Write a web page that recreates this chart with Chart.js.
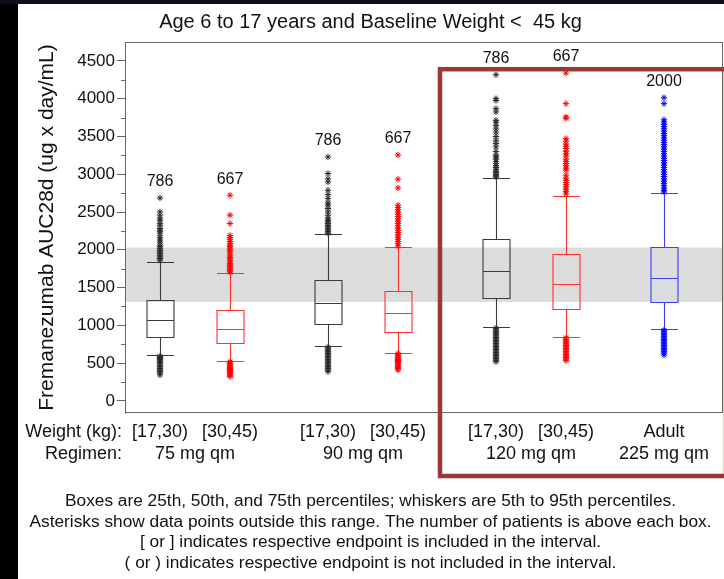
<!DOCTYPE html>
<html>
<head>
<meta charset="utf-8">
<script src="https://cdn.jsdelivr.net/npm/chart.js@4/dist/chart.umd.min.js"></script>
<style>
  html, body { margin: 0; padding: 0; background: #fff; width: 724px; height: 579px; overflow: hidden; }
  #edgeL { position: absolute; left: 0; top: 0; width: 18px; height: 579px; background: #000; }
  #edgeT { position: absolute; left: 0; top: 0; width: 724px; height: 4px; background: #0b111c; }
  #wrap { position: absolute; left: 0; top: 0; width: 724px; height: 579px; }
</style>
</head>
<body>
<div id="edgeL"></div>
<div id="edgeT"></div>
<div id="wrap"><canvas id="c"></canvas></div>
<script>
// ---- data ----------------------------------------------------------
const weightLabels = ['[17,30)', '[30,45)', '[17,30)', '[30,45)', '[17,30)', '[30,45)', 'Adult'];
const regimenLabels = ['75 mg qm', '90 mg qm', '120 mg qm', '225 mg qm'];
const regimenGroups = [[0, 1], [2, 3], [4, 5], [6]];
const positions = [1, 2, 3.4, 4.4, 5.8, 6.8, 8.2];
const patients = [786, 667, 786, 667, 786, 667, 2000];

const p5  = [604, 529, 723, 639, 974, 850, 951];
const q1  = [846, 767, 1018, 908, 1357, 1212, 1308];
const med = [1066, 956, 1295, 1159, 1718, 1542, 1630];
const q3  = [1331, 1207, 1595, 1454, 2137, 1942, 2031];
const p95 = [1841, 1696, 2203, 2031, 2947, 2718, 2749];

const upperOutliers = [
  [2687, 2502, 2458, 2420, 2392, 2350, 2326, 2282, 2250, 2238, 2194, 2160, 2128, 2100, 2062, 2040, 2018, 1995, 1973, 1950, 1929, 1905, 1885, 1865],
  [2722, 2458, 2348, 2190, 2163, 2140, 2110, 2085, 2060, 2040, 2010, 1990, 1960, 1930, 1900, 1880, 1850, 1820, 1800, 1780, 1760, 1740, 1720, 1705],
  [3229, 3009, 2940, 2898, 2788, 2730, 2678, 2620, 2590, 2546, 2500, 2458, 2420, 2392, 2370, 2348, 2325, 2304, 2280, 2260, 2238, 2220],
  [3255, 2934, 2819, 2590, 2560, 2530, 2500, 2470, 2440, 2410, 2380, 2350, 2320, 2290, 2260, 2230, 2200, 2170, 2140, 2110, 2080, 2050],
  [4317, 4000, 3978, 3868, 3824, 3713, 3690, 3647, 3600, 3559, 3500, 3449, 3405, 3361, 3300, 3250, 3229, 3200, 3170, 3140, 3110, 3090, 3060, 3040, 3020, 3000, 2980, 2965],
  [4339, 3934, 3757, 3740, 3471, 3440, 3400, 3370, 3340, 3300, 3270, 3240, 3200, 3170, 3140, 3110, 3080, 3053, 2987, 2950, 2920, 2890, 2860, 2830, 2800, 2770, 2740],
  [4013, 3934, 3720, 3690, 3660, 3630, 3600, 3570, 3540, 3510, 3480, 3450, 3420, 3390, 3360, 3330, 3300, 3270, 3240, 3210, 3180, 3150, 3120, 3090, 3060, 3030, 3000, 2970, 2940, 2910, 2880, 2850, 2820, 2790, 2765]
];
const lowerOutliers = [
  [590, 575, 560, 545, 530, 510, 490, 470, 450, 430, 410, 390, 370, 344],
  [515, 500, 490, 475, 460, 445, 430, 415, 400, 385, 370, 355, 340, 322],
  [710, 690, 670, 650, 630, 610, 590, 570, 550, 530, 510, 490, 470, 450, 430, 410, 388],
  [625, 610, 595, 580, 565, 550, 535, 520, 505, 490, 475, 460, 445, 430, 410],
  [960, 940, 920, 900, 880, 860, 840, 820, 800, 780, 760, 740, 720, 700, 680, 660, 640, 620, 600, 580, 560, 540, 520],
  [835, 815, 795, 775, 755, 735, 715, 695, 675, 655, 635, 615, 595, 575, 555, 533],
  [935, 915, 895, 875, 855, 835, 815, 795, 775, 755, 735, 715, 695, 675, 655, 635, 608]
];

// target exposure range shown as the shaded band
const targetBand = [1310, 2030];

const yTicks = [0, 500, 1000, 1500, 2000, 2500, 3000, 3500, 4000, 4500];
const yMinorTicks = [250, 750, 1250, 1750, 2250, 2750, 3250, 3750, 4250];

const footnotes = [
  'Boxes are 25th, 50th, and 75th percentiles; whiskers are 5th to 95th percentiles.',
  'Asterisks show data points outside this range. The number of patients is above each box.',
  '[ or ] indicates respective endpoint is included in the interval.',
  '( or ) indicates respective endpoint is not included in the interval.'
];

// ---- styling -------------------------------------------------------
const FONT = "'Liberation Sans', Arial, Helvetica, sans-serif";
const lineColors = ['#3a3a3a', '#ff3030', '#3a3a3a', '#ff3030', '#3a3a3a', '#ff3030', '#3c3cff'];
const markColors = ['#2a2a2a', '#ff0000', '#2a2a2a', '#ff0000', '#2a2a2a', '#ff0000', '#0000ff'];
const BOX_W = 27;
const HILITE_FROM = 5.0;      // x value where the 120 mg / adult panel starts
const HILITE_TOP = 4390;      // y value of the panel's upper edge

const datasets = positions.map((p, i) => ({
  label: weightLabels[i],
  data: upperOutliers[i].concat(lowerOutliers[i]).map(v => ({ x: p, y: v })),
  pointStyle: 'star',
  pointRadius: 3.2,
  pointBorderWidth: 1,
  borderColor: markColors[i],
  backgroundColor: markColors[i],
  showLine: false
}));

const boxPlot = {
  id: 'boxPlot',
  beforeDatasetsDraw(chart) {
    const { ctx, chartArea: a, scales: { x, y } } = chart;
    ctx.save();
    const top = y.getPixelForValue(targetBand[1]);
    const bot = y.getPixelForValue(targetBand[0]);
    ctx.fillStyle = '#dcdcdc';
    ctx.fillRect(a.left, top, a.right - a.left, bot - top);

    positions.forEach((p, i) => {
      const cx = Math.round(x.getPixelForValue(p)) + 0.5;
      const hw = BOX_W / 2;
      const py = v => Math.round(y.getPixelForValue(v)) + 0.5;
      ctx.strokeStyle = lineColors[i];
      ctx.lineWidth = 1.1;
      ctx.beginPath();
      ctx.rect(cx - hw, py(q3[i]), 2 * hw, py(q1[i]) - py(q3[i]));
      ctx.moveTo(cx - hw, py(med[i])); ctx.lineTo(cx + hw, py(med[i]));
      ctx.moveTo(cx, py(q3[i])); ctx.lineTo(cx, py(p95[i]));
      ctx.moveTo(cx, py(q1[i])); ctx.lineTo(cx, py(p5[i]));
      ctx.moveTo(cx - hw, py(p95[i])); ctx.lineTo(cx + hw, py(p95[i]));
      ctx.moveTo(cx - hw, py(p5[i])); ctx.lineTo(cx + hw, py(p5[i]));
      ctx.stroke();
    });
    ctx.restore();
  },
  afterDatasetsDraw(chart) {
    const { ctx, chartArea: a, scales: { x, y } } = chart;
    ctx.save();
    // plot frame
    ctx.strokeStyle = '#666';
    ctx.lineWidth = 1;
    ctx.strokeRect(a.left + 0.5, a.top + 0.5, a.right - a.left - 1, a.bottom - a.top - 1);

    // minor ticks on the value axis
    ctx.beginPath();
    yMinorTicks.forEach(v => {
      const py = Math.round(y.getPixelForValue(v)) + 0.5;
      ctx.moveTo(a.left - 4, py); ctx.lineTo(a.left, py);
    });
    ctx.stroke();

    // patient counts above each box
    ctx.fillStyle = '#111';
    ctx.font = '16px ' + FONT;
    ctx.textAlign = 'center';
    ctx.textBaseline = 'middle';
    positions.forEach((p, i) => {
      const topVal = Math.max(...upperOutliers[i]);
      ctx.fillText(String(patients[i]), x.getPixelForValue(p), y.getPixelForValue(topVal) - 16);
    });

    // category rows below the axis
    ctx.font = '18px ' + FONT;
    const row1 = a.bottom + 19, row2 = a.bottom + 41;
    ctx.textAlign = 'right';
    ctx.fillText('Weight (kg):', a.left - 3, row1);
    ctx.fillText('Regimen:', a.left - 3, row2);
    ctx.textAlign = 'center';
    positions.forEach((p, i) => ctx.fillText(weightLabels[i], x.getPixelForValue(p), row1));
    regimenGroups.forEach((g, k) => {
      const mid = g.reduce((s, j) => s + positions[j], 0) / g.length;
      ctx.fillText(regimenLabels[k], x.getPixelForValue(mid), row2);
    });
    ctx.restore();
  },
  afterDraw(chart) {
    const { ctx, chartArea: a, scales: { x, y } } = chart;
    ctx.save();
    ctx.strokeStyle = '#9a3737';
    ctx.lineWidth = 4.5;
    const l = x.getPixelForValue(HILITE_FROM);
    const t = y.getPixelForValue(HILITE_TOP);
    ctx.strokeRect(l, t, a.right + 3 - l, a.bottom + 63 - t);
    ctx.restore();
  }
};

new Chart(document.getElementById('c'), {
  type: 'scatter',
  data: { datasets },
  plugins: [boxPlot],
  options: {
    responsive: true,
    maintainAspectRatio: false,
    animation: false,
    events: [],
    layout: { autoPadding: false, padding: { left: 18, right: 1, top: 4, bottom: 0 } },
    plugins: {
      legend: { display: false },
      tooltip: { enabled: false },
      title: {
        display: true,
        text: 'Age 6 to 17 years and Baseline Weight <  45 kg',
        color: '#111',
        font: { family: FONT, size: 20, weight: 'normal', lineHeight: 1.2 },
        padding: { top: 6, bottom: 8 }
      },
      subtitle: {
        display: true,
        position: 'bottom',
        text: footnotes,
        color: '#111',
        font: { family: FONT, size: 17.3, weight: 'normal', lineHeight: 20.5 / 17.3 },
        padding: { top: 78, bottom: 6 }
      }
    },
    scales: {
      x: { type: 'linear', display: false, min: 0.5, max: 9.043 },
      y: {
        type: 'linear',
        min: -160,
        max: 4750,
        afterBuildTicks: s => { s.ticks = yTicks.map(v => ({ value: v })); },
        afterFit: s => { s.width = 107; },
        border: { display: true, color: '#666', width: 1 },
        grid: { display: true, drawOnChartArea: false, drawTicks: true, tickLength: 8, tickColor: '#666' },
        ticks: { color: '#111', padding: 2, font: { family: FONT, size: 17 }, callback: v => String(v) },
        title: {
          display: true,
          text: 'Fremanezumab AUC28d (ug x day/mL)',
          color: '#111',
          font: { family: FONT, size: 21 },
          padding: { top: 17, bottom: 0 }
        }
      }
    }
  }
});
</script>
</body>
</html>
